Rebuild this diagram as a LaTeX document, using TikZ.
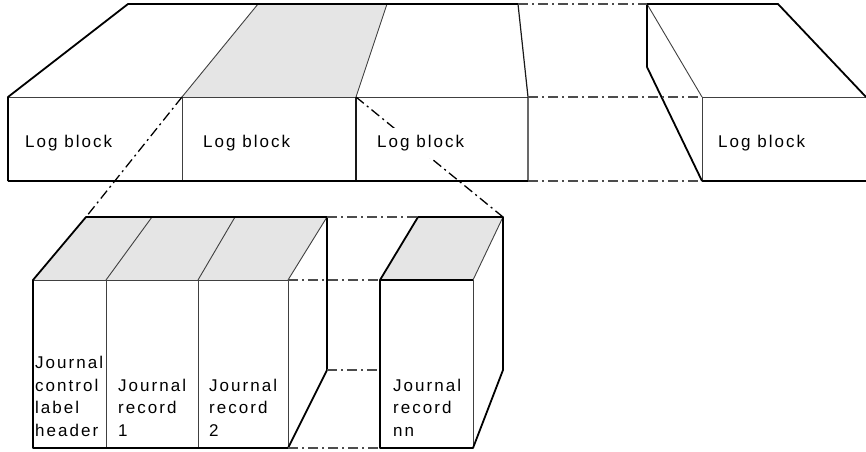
\documentclass[tikz,border=0pt]{standalone}
\usepackage{fontspec}
\setmainfont{Liberation Sans}
\newfontfamily\labfont[LetterSpace=12]{Liberation Sans}
\begin{document}
\begin{tikzpicture}[x=1pt,y=-1pt,
  outline/.style={line width=1.8pt, line join=round, draw=black},
  inner/.style={line width=0.9pt, draw=black!75},
  mid/.style={line width=1.2pt, draw=black!90},
  dd/.style={line width=1.3pt, draw=black!70, dash pattern=on 10pt off 4pt on 2pt off 4pt},
  ddk/.style={line width=1.3pt, draw=black, dash pattern=on 10pt off 4pt on 2pt off 4pt},
  face/.style={fill=gray!20},
  lab/.style={font=\labfont\fontsize{17}{22.5}\selectfont, inner sep=0pt, anchor=base west, align=left}]
\useasboundingbox (0,0) rectangle (866,451);

% ---------- top strip coordinates ----------
\coordinate (tl) at (128,4);
\coordinate (fl) at (8,97);
\coordinate (bl) at (8,181);
\coordinate (d1t) at (258,4);   \coordinate (d1) at (182,97);  \coordinate (d1b) at (182,181);
\coordinate (d2t) at (387,4);   \coordinate (d2) at (356,97);  \coordinate (d2b) at (356,181);
\coordinate (d3t) at (518,4);   \coordinate (d3) at (528,97);  \coordinate (d3b) at (528,181);
\coordinate (r1t) at (647,4);   \coordinate (r1m) at (647,67);
\coordinate (r1) at (702,97);   \coordinate (r1b) at (702,181);
\coordinate (rt) at (778,4);    \coordinate (rr) at (866,97);  \coordinate (rb) at (866,181);

% gray top face
\fill[face] (d1) -- (d1t) -- (d2t) -- (d2) -- cycle;

% inner lines
\draw[inner] (fl) -- (d3);
\draw[inner] (r1) -- (rr);
\draw[inner] (d1) -- (d1b);
\draw[inner] (d1) -- (d1t);
\draw[inner] (d2) -- (d2t);
\draw[mid] (d2) -- (d2b);
\draw[mid] (d3t) -- (d3) -- (d3b);
\draw[inner] (r1t) -- (r1);
\draw[inner] (r1) -- (r1b);

% outlines
\draw[outline] (bl) -- (fl) -- (tl) -- (d3t);
\draw[outline] (bl) -- (d3b);
\draw[outline] (r1b) -- (r1m) -- (r1t) -- (rt) -- (rr);
\draw[outline] (r1b) -- (rb);

% gap dash-dot lines
\draw[dd] (d3t) -- (r1t);
\draw[dd] (d3) -- (r1);
\draw[dd] (d3b) -- (r1b);

% ---------- bottom blocks ----------
\coordinate (a1) at (33,280);  \coordinate (a0) at (86,217);
\coordinate (b1) at (106,280); \coordinate (b0) at (152,217); \coordinate (b2) at (106,448);
\coordinate (c1) at (198,280); \coordinate (c0) at (235,217); \coordinate (c2) at (198,448);
\coordinate (e1) at (288,280); \coordinate (e0) at (327,217); \coordinate (e2) at (288,448);
\coordinate (em) at (327,370); \coordinate (a2) at (33,448);

\coordinate (f1) at (380,280); \coordinate (f0) at (418,217); \coordinate (f2) at (380,448);
\coordinate (g1) at (473,280); \coordinate (g0) at (503,217); \coordinate (g2) at (473,448);
\coordinate (gm) at (503,370);

\fill[face] (a1) -- (a0) -- (e0) -- (e1) -- cycle;
\fill[face] (f1) -- (f0) -- (g0) -- (g1) -- cycle;

\draw[inner] (a1) -- (e1) -- (e2);
\draw[inner] (e1) -- (e0);
\draw[inner] (b1) -- (b0); \draw[inner] (b1) -- (b2);
\draw[inner] (c1) -- (c0); \draw[inner] (c1) -- (c2);
\draw[inner] (g1) -- (g0); \draw[inner] (g1) -- (g2);
\draw[outline] (f1) -- (g1);

\draw[outline] (a2) -- (a1) -- (a0) -- (e0) -- (em) -- (e2) -- cycle;
\draw[outline] (f2) -- (f1) -- (f0) -- (g0) -- (gm) -- (g2) -- cycle;

\draw[dd] (e0) -- (f0);
\draw[dd] (e1) -- (f1);
\draw[dd] (em) -- (f1 |- em);
\draw[dd] (e2) -- (f2);

% connectors from top strip to bottom
\draw[ddk] (d1) -- (a0);
\draw[ddk] (d2) -- (g0);

% ---------- labels ----------
\node[lab] (L1) at (25,147) {Log block};
\node[lab] (L2) at (203,147) {Log block};
\node[lab, fill=white, inner ysep=7pt] (L3) at (377,147) {Log block};
\node[lab] (L4) at (718,147) {Log block};

\node[lab] (J0) at (35,436) {Journal\\control\\label\\header};
\node[lab] (J1) at (118,436) {Journal\\record\\1};
\node[lab] (J2) at (209,436) {Journal\\record\\2};
\node[lab] (Jn) at (393,436) {Journal\\record\\nn};
\end{tikzpicture}
\end{document}
